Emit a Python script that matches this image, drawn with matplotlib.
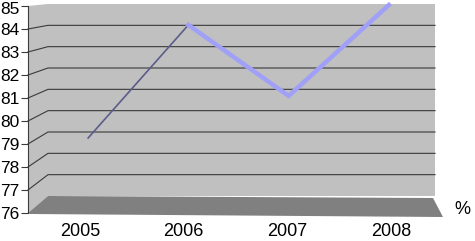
import matplotlib
matplotlib.use("Agg")
import matplotlib.pyplot as plt
from matplotlib.patches import Polygon
from matplotlib.transforms import ScaledTranslation

# Chart data
years = ["2005", "2006", "2007", "2008"]
values = [79.0, 84.1, 80.9, 85.0]
y_ticks = [76, 77, 78, 79, 80, 81, 82, 83, 84, 85]
unit_label = "%"

plt.rcParams["font.family"] = ["Liberation Sans", "DejaVu Sans"]

W, H = 475, 241
fig = plt.figure(figsize=(W / 100, H / 100), dpi=100)


def box(x0, y0, x1, y1):
    # pixel box (top-left origin) -> figure fraction rect
    return [x0 / W, 1 - y1 / H, (x1 - x0) / W, (y1 - y0) / H]


# front plane and back wall (pixel coords)
fx0, fx1, fy_top, fy_bot = 28, 443, 6, 213
bx0, bx1, by_top, by_bot = 48, 435, 4, 196
vmin, vmax = y_ticks[0], y_ticks[-1]


def fy(v):
    return fy_bot - (v - vmin) / (vmax - vmin) * (fy_bot - fy_top)


def by(v):
    return by_bot - (v - vmin) / (vmax - vmin) * (by_bot - by_top)


# 3D frame: walls, floor, gridlines
ax_bg = fig.add_axes([0, 0, 1, 1])
ax_bg.set_xlim(0, W)
ax_bg.set_ylim(H, 0)
ax_bg.axis("off")

wall = "#c0c0c0"
ax_bg.add_patch(Polygon([(fx0, fy_top), (bx0, by_top), (bx0, by_bot), (fx0, fy_bot)],
                        closed=True, facecolor=wall, edgecolor="none"))
ax_bg.add_patch(Polygon([(bx0, by_top), (bx1, by_top), (bx1, by_bot), (bx0, by_bot)],
                        closed=True, facecolor=wall, edgecolor="none"))
ax_bg.add_patch(Polygon([(fx0, fy_bot), (bx0, by_bot), (bx1 - 2, by_bot + 2), (fx1, fy_bot + 4), (fx0 + 2, fy_bot + 1)],
                        closed=True, facecolor="#808080", edgecolor="none"))
for v in y_ticks[1:-1]:
    ax_bg.plot([fx0, bx0, bx1], [fy(v), by(v), by(v)], color="#3a3a3a", lw=0.8)
ax_bg.plot([fx0, fx0], [fy_top, fy_bot], color="#3a3a3a", lw=0.8)

# front axes: tick labels
ax_front = fig.add_axes(box(fx0, fy_top, fx1, fy_bot))
ax_front.patch.set_visible(False)
for s in ax_front.spines.values():
    s.set_visible(False)
ax_front.set_xlim(-0.5, len(years) - 0.5)
ax_front.set_ylim(vmin, vmax)
ax_front.set_yticks(y_ticks)
ax_front.set_yticklabels([str(t) for t in y_ticks])
ax_front.set_xticks(range(len(years)))
ax_front.set_xticklabels(years)
ax_front.tick_params(axis="y", length=5, width=0.8, color="#3a3a3a", pad=1, labelsize=12.5)
ax_front.tick_params(axis="x", length=0, pad=7, labelsize=13)
# keep the top label inside the canvas
top_lbl = ax_front.get_yticklabels()[-1]
top_lbl.set_transform(top_lbl.get_transform() + ScaledTranslation(0, -2 / 100, fig.dpi_scale_trans))

# middle plane: the data line
ax_mid = fig.add_axes(box((fx0 + bx0) / 2, (fy_top + by_top) / 2,
                          (fx1 + bx1) / 2, (fy_bot + by_bot) / 2))
ax_mid.axis("off")
ax_mid.set_xlim(-0.5, len(years) - 0.5)
ax_mid.set_ylim(vmin, vmax)
xs = list(range(len(years)))
ax_mid.plot(xs[:2], values[:2], color="#5c5c8c", lw=1.2, clip_on=False)
ax_mid.plot(xs[1:], values[1:], color="#a0a0f8", lw=3.2, clip_on=False,
            solid_joinstyle="miter")

fig.text(462 / W, 1 - 209 / H, unit_label, fontsize=13, ha="center", va="center")

fig.savefig("out.png", dpi=100)
